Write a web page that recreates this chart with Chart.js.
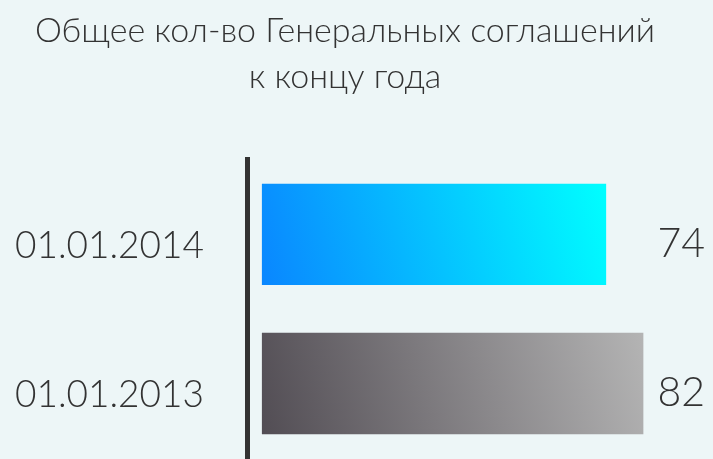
<!DOCTYPE html>
<html>
<head>
<meta charset="utf-8">
<script src="https://cdn.jsdelivr.net/npm/chart.js@4"></script>
<style>
  html, body { margin: 0; padding: 0; background: #edf6f7; overflow: hidden; }
  canvas { display: block; }
</style>
</head>
<body>
<canvas id="grafico" width="713" height="459"></canvas>
<script>
var datas = ['01.01.2014', '01.01.2013'];
var acordos = [74, 82];
var titulo = ['Общее кол-во Генеральных соглашений', 'к концу года'];

var coresInicio = ['#0a86ff', '#524d54'];
var coresFim = ['#00ffff', '#b4b4b4'];
var fonte = 'Lato';

// gradiente de baixo-esquerda para cima-direita, em cada barra
function corBarra(ctx) {
    var chart = ctx.chart;
    if (!chart.chartArea || ctx.type !== 'data') return coresInicio[0];
    var sx = chart.scales.x, sy = chart.scales.y;
    var i = ctx.dataIndex;
    var x0 = sx.getPixelForValue(0);
    var x1 = sx.getPixelForValue(acordos[i]);
    var yc = sy.getPixelForValue(i);
    var g = chart.ctx.createLinearGradient(x0, yc + 50, x1, yc - 50);
    g.addColorStop(0, coresInicio[i]);
    g.addColorStop(1, coresFim[i]);
    return g;
}

var valoresPlugin = {
    id: 'valores',
    afterDatasetsDraw: function (chart) {
        var c = chart.ctx;
        var sy = chart.scales.y;
        c.save();
        c.font = '300 41px ' + fonte;
        c.fillStyle = '#333333';
        c.textAlign = 'right';
        c.textBaseline = 'middle';
        for (var i = 0; i < acordos.length; i++) {
            c.fillText(String(acordos[i]), 705, sy.getPixelForValue(i) + 9);
        }
        c.restore();
    }
};

const config = {
    type: 'bar',
    data: {
        labels: datas,
        datasets: [{
            data: acordos,
            backgroundColor: corBarra,
            borderWidth: 0,
            barPercentage: 0.68,
            categoryPercentage: 1
        }]
    },
    options: {
        indexAxis: 'y',
        responsive: false,
        animation: false,
        layout: { padding: { left: 15, right: 38, top: 0, bottom: 1 } },
        plugins: {
            legend: { display: false },
            tooltip: { enabled: false },
            title: {
                display: true,
                text: titulo,
                color: '#333333',
                font: { family: fonte, size: 34, weight: 300, lineHeight: 1.35 },
                padding: { top: 8, bottom: 60 }
            }
        },
        scales: {
            x: {
                display: false,
                min: -3.2,
                max: 88.8
            },
            y: {
                afterFit: function (scale) { scale.width = 232; },
                grid: { display: false, drawTicks: false },
                border: { display: true, color: '#333333', width: 5 },
                ticks: {
                    color: '#333333',
                    // lineHeight pequeno pra nao empurrar a area do grafico
                    font: { family: fonte, size: 37, weight: 300, lineHeight: 0.05 },
                    padding: 0,
                    crossAlign: 'far',
                    labelOffset: 12
                }
            }
        }
    },
    plugins: [valoresPlugin]
};

new Chart(document.getElementById('grafico'), config);
</script>
</body>
</html>
